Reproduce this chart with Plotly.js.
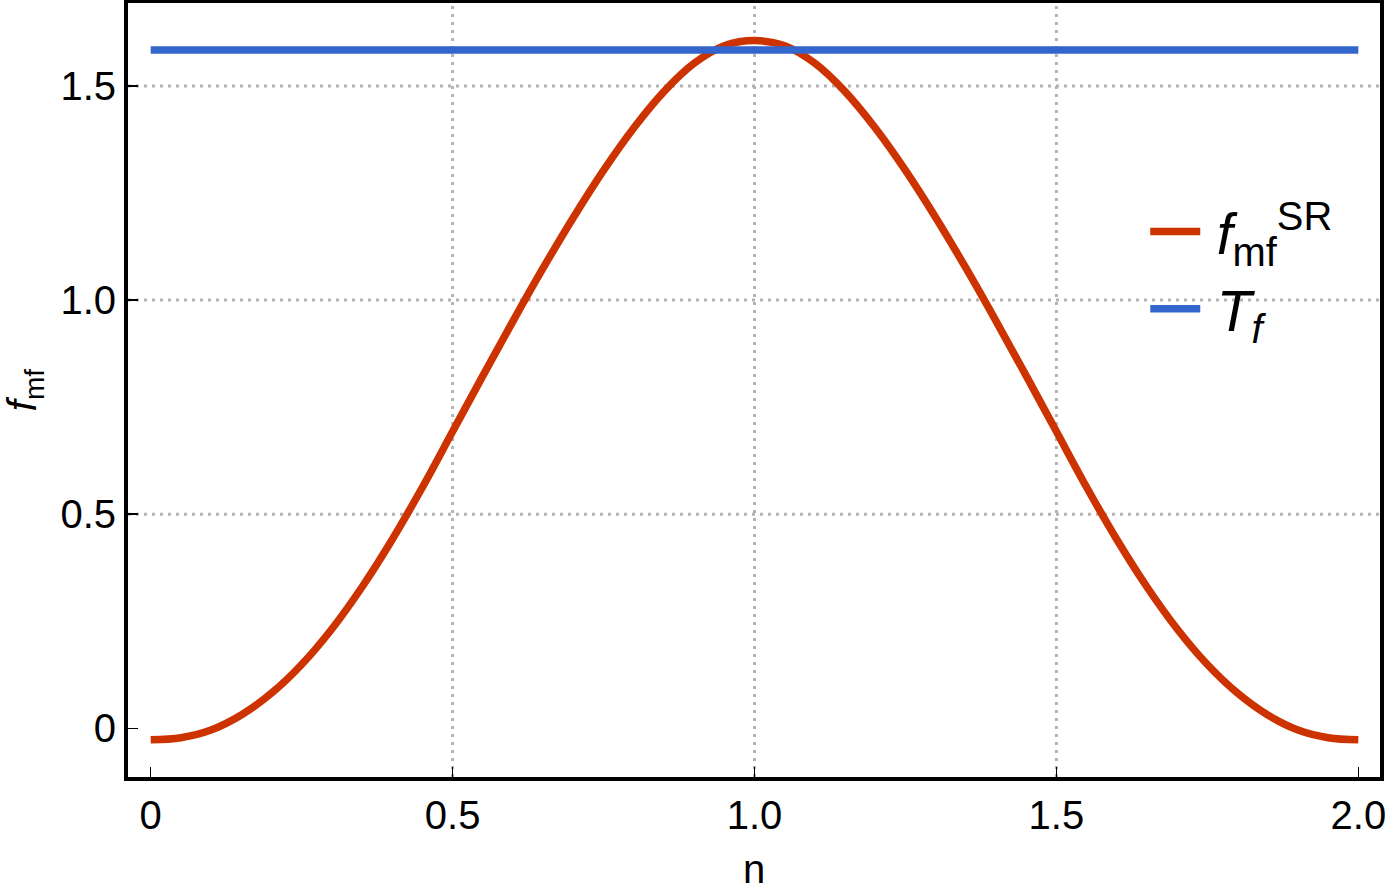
<!DOCTYPE html>
<html>
<head>
<meta charset="utf-8">
<script src="https://cdn.plot.ly/plotly-3.0.1.min.js"></script>
<style>html,body{margin:0;padding:0;background:#fff;}#chart{width:1389px;height:896px;}</style>
</head>
<body>
<div id="chart"></div>
<script>
// ---- data ----
const nValues = [0.00,0.05,0.10,0.15,0.20,0.25,0.30,0.35,0.40,0.45,0.50,0.55,0.60,0.65,0.70,0.75,0.80,0.85,0.90,0.95,1.00,
                 1.05,1.10,1.15,1.20,1.25,1.30,1.35,1.40,1.45,1.50,1.55,1.60,1.65,1.70,1.75,1.80,1.85,1.90,1.95,2.00];
const fmfSR   = [-0.027,-0.022,-0.004,0.031,0.082,0.149,0.232,0.330,0.441,0.563,0.693,0.823,0.951,1.075,1.193,1.303,1.402,1.487,1.553,1.594,1.606,
                 1.594,1.553,1.487,1.402,1.303,1.193,1.075,0.951,0.823,0.693,0.563,0.441,0.330,0.232,0.149,0.082,0.031,-0.004,-0.022,-0.027];
const tfN      = [0, 2];
const tfValues = [1.584, 1.584];
const xTickVals = [0, 0.5, 1.0, 1.5, 2.0];
const xTickText = ["0", "0.5", "1.0", "1.5", "2.0"];
const yTickVals = [0, 0.5, 1.0, 1.5];
const yTickText = ["0", "0.5", "1.0", "1.5"];
const xGridVals = [0.5, 1.0, 1.5];
const yGridVals = [0.5, 1.0, 1.5];
const seriesNames = ["\u2009<i>f</i><sub>mf</sub><sup>SR</sup>", "\u2009<i>T</i><sub><i>f</i></sub>"];

const FONT = "Liberation Sans, Arial, Helvetica, sans-serif";
const gridLine = {color: "#b3b3b3", width: 3, dash: "3px,5px"};

const shapes = [];
xGridVals.forEach(v => shapes.push({type: "line", xref: "x", yref: "paper", x0: v, x1: v, y0: 0, y1: 1, layer: "below", line: gridLine}));
yGridVals.forEach(v => shapes.push({type: "line", xref: "paper", yref: "y", x0: 0, x1: 1, y0: v, y1: v, layer: "below", line: gridLine}));

const traces = [
  {x: nValues, y: fmfSR, type: "scatter", mode: "lines", name: seriesNames[0],
   line: {color: "#cc3300", width: 7.5, shape: "spline", smoothing: 1}},
  {x: tfN, y: tfValues, type: "scatter", mode: "lines", name: seriesNames[1],
   line: {color: "#3366cc", width: 7.5}}
];

const axisCommon = {
  showgrid: false, zeroline: false, showline: true, linecolor: "#000", linewidth: 4, mirror: true,
  ticks: "inside", ticklen: 10, tickwidth: 1.5, tickcolor: "#000",
  tickfont: {family: FONT, size: 40, color: "#000"}, tickmode: "array"
};

const layout = {
  width: 1389, height: 896,
  margin: {l: 128, r: 9, t: 3, b: 119},
  paper_bgcolor: "#fff", plot_bgcolor: "#fff",
  font: {family: FONT, color: "#000"},
  showlegend: true,
  legend: {x: 0.8125, y: 0.761, xanchor: "left", yanchor: "top", bgcolor: "rgba(0,0,0,0)",
           font: {family: FONT, size: 57, color: "#000"}, itemwidth: 50},
  xaxis: Object.assign({}, axisCommon, {range: [-0.0376, 2.0359], tickvals: xTickVals, ticktext: xTickText,
           title: {text: "n", font: {family: FONT, size: 40, color: "#000"}, standoff: 20}}),
  yaxis: Object.assign({}, axisCommon, {range: [-0.1137, 1.6938], tickvals: yTickVals, ticktext: yTickText,
           title: {text: "<i>f</i><sub>mf</sub>", font: {family: FONT, size: 40, color: "#000"}, standoff: 20}}),
  shapes: shapes
};

Plotly.newPlot("chart", traces, layout, {displayModeBar: false, staticPlot: true});
</script>
</body>
</html>
